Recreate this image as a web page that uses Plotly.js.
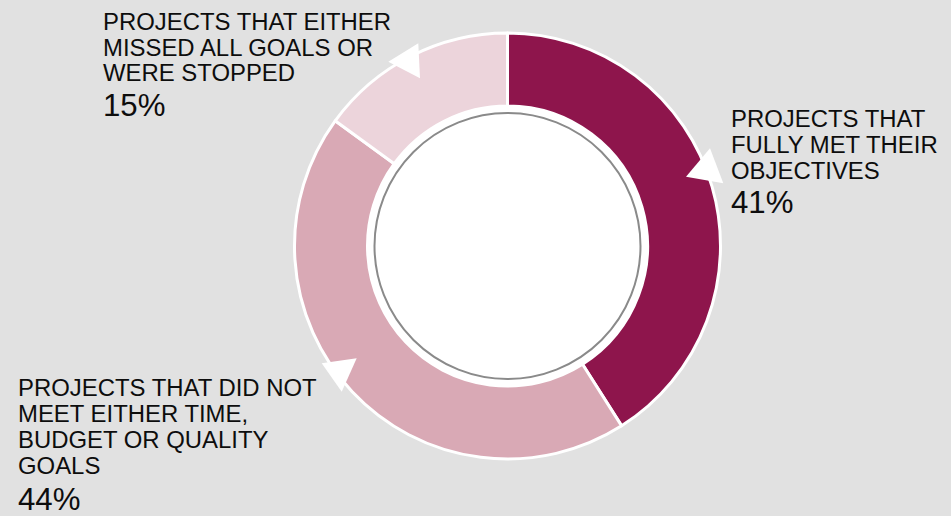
<!DOCTYPE html>
<html>
<head>
<meta charset="utf-8">
<script src="https://cdn.plot.ly/plotly-3.0.1.min.js"></script>
<style>html,body{margin:0;padding:0;background:#e1e1e1;}#chart{width:951px;height:516px;}</style>
</head>
<body>
<div id="chart"></div>
<script>
// ---- data ----
const categories = [
  "PROJECTS THAT FULLY MET THEIR OBJECTIVES",
  "PROJECTS THAT DID NOT MEET EITHER TIME, BUDGET OR QUALITY GOALS",
  "PROJECTS THAT EITHER MISSED ALL GOALS OR WERE STOPPED"
];
const values = [41, 44, 15];
const labelLines = [
  ["PROJECTS THAT", "FULLY MET THEIR", "OBJECTIVES"],
  ["PROJECTS THAT DID NOT", "MEET EITHER TIME,", "BUDGET OR QUALITY", "GOALS"],
  ["PROJECTS THAT EITHER", "MISSED ALL GOALS OR", "WERE STOPPED"]
];
const sliceColors = ["#8e154c", "#d9a9b5", "#ecd4db"];

// ---- layout helpers (pixel -> paper) ----
const W = 951, H = 516;
const px = x => x / W;
const py = y => 1 - y / H;
const cx = 507.5, cy = 246, R = 213;

// label block placement: left x, centres of text lines, centre of percent line
const labelPos = [
  {x: 728.5, lines: [118.5, 144.1, 170.1], pct: 202.5},
  {x: 15.5, lines: [387.8, 413.5, 439.1, 465.1], pct: 499.2},
  {x: 101, lines: [21.8, 47.8, 72.8], pct: 105.2}
];
const FONT = "Liberation Sans, Arial, Helvetica, sans-serif";
const LABEL_SIZE = 23.9, PCT_SIZE = 31.2;

const annotations = [];
labelLines.forEach((lines, i) => {
  const p = labelPos[i];
  lines.forEach((t, j) => {
    annotations.push({text: t, x: px(p.x), y: py(p.lines[j]), xref: "paper", yref: "paper",
      xanchor: "left", yanchor: "middle", showarrow: false, align: "left",
      font: {family: FONT, size: LABEL_SIZE, color: "#0d0d0d"}});
  });
  annotations.push({text: values[i] + "%", x: px(p.x), y: py(p.pct), xref: "paper", yref: "paper",
    xanchor: "left", yanchor: "middle", showarrow: false, align: "left",
    font: {family: FONT, size: PCT_SIZE, color: "#0d0d0d"}});
});

const tri = pts => "M " + pts.map(p => px(p[0]) + "," + py(p[1])).join(" L ") + " Z";
const arrows = [
  [[686, 176.7], [710, 148.3], [723.3, 183.3]],
  [[321.7, 363.3], [356.7, 358.3], [341.7, 391.7]],
  [[388.3, 61.7], [418.3, 43.3], [420, 78.3]]
];

const shapes = [
  {type: "circle", xref: "paper", yref: "paper", layer: "below",
   x0: px(cx - 141), x1: px(cx + 141), y0: py(cy + 141), y1: py(cy - 141),
   fillcolor: "#ffffff", line: {width: 0}},
  {type: "circle", xref: "paper", yref: "paper", layer: "below",
   x0: px(cx - 133), x1: px(cx + 133), y0: py(cy + 133), y1: py(cy - 133),
   fillcolor: "#ffffff", line: {color: "#8a8a8a", width: 2}}
];
arrows.forEach(a => shapes.push({type: "path", xref: "paper", yref: "paper", layer: "above",
  path: tri(a), fillcolor: "#ffffff", line: {width: 0}}));

const trace = {
  type: "pie",
  labels: categories,
  values: values,
  sort: false,
  direction: "clockwise",
  rotation: 0,
  hole: 140 / R,
  textinfo: "none",
  hoverinfo: "label+percent",
  marker: {colors: sliceColors, line: {color: "#ffffff", width: 3}},
  domain: {x: [px(cx - R), px(cx + R)], y: [py(cy + R), py(cy - R)]},
  showlegend: false
};

const layout = {
  width: W, height: H, autosize: false,
  margin: {l: 0, r: 0, t: 0, b: 0},
  paper_bgcolor: "#e1e1e1",
  plot_bgcolor: "#e1e1e1",
  showlegend: false,
  annotations: annotations,
  shapes: shapes,
  font: {family: FONT}
};

Plotly.newPlot("chart", [trace], layout, {displayModeBar: false, staticPlot: true});
</script>
</body>
</html>
